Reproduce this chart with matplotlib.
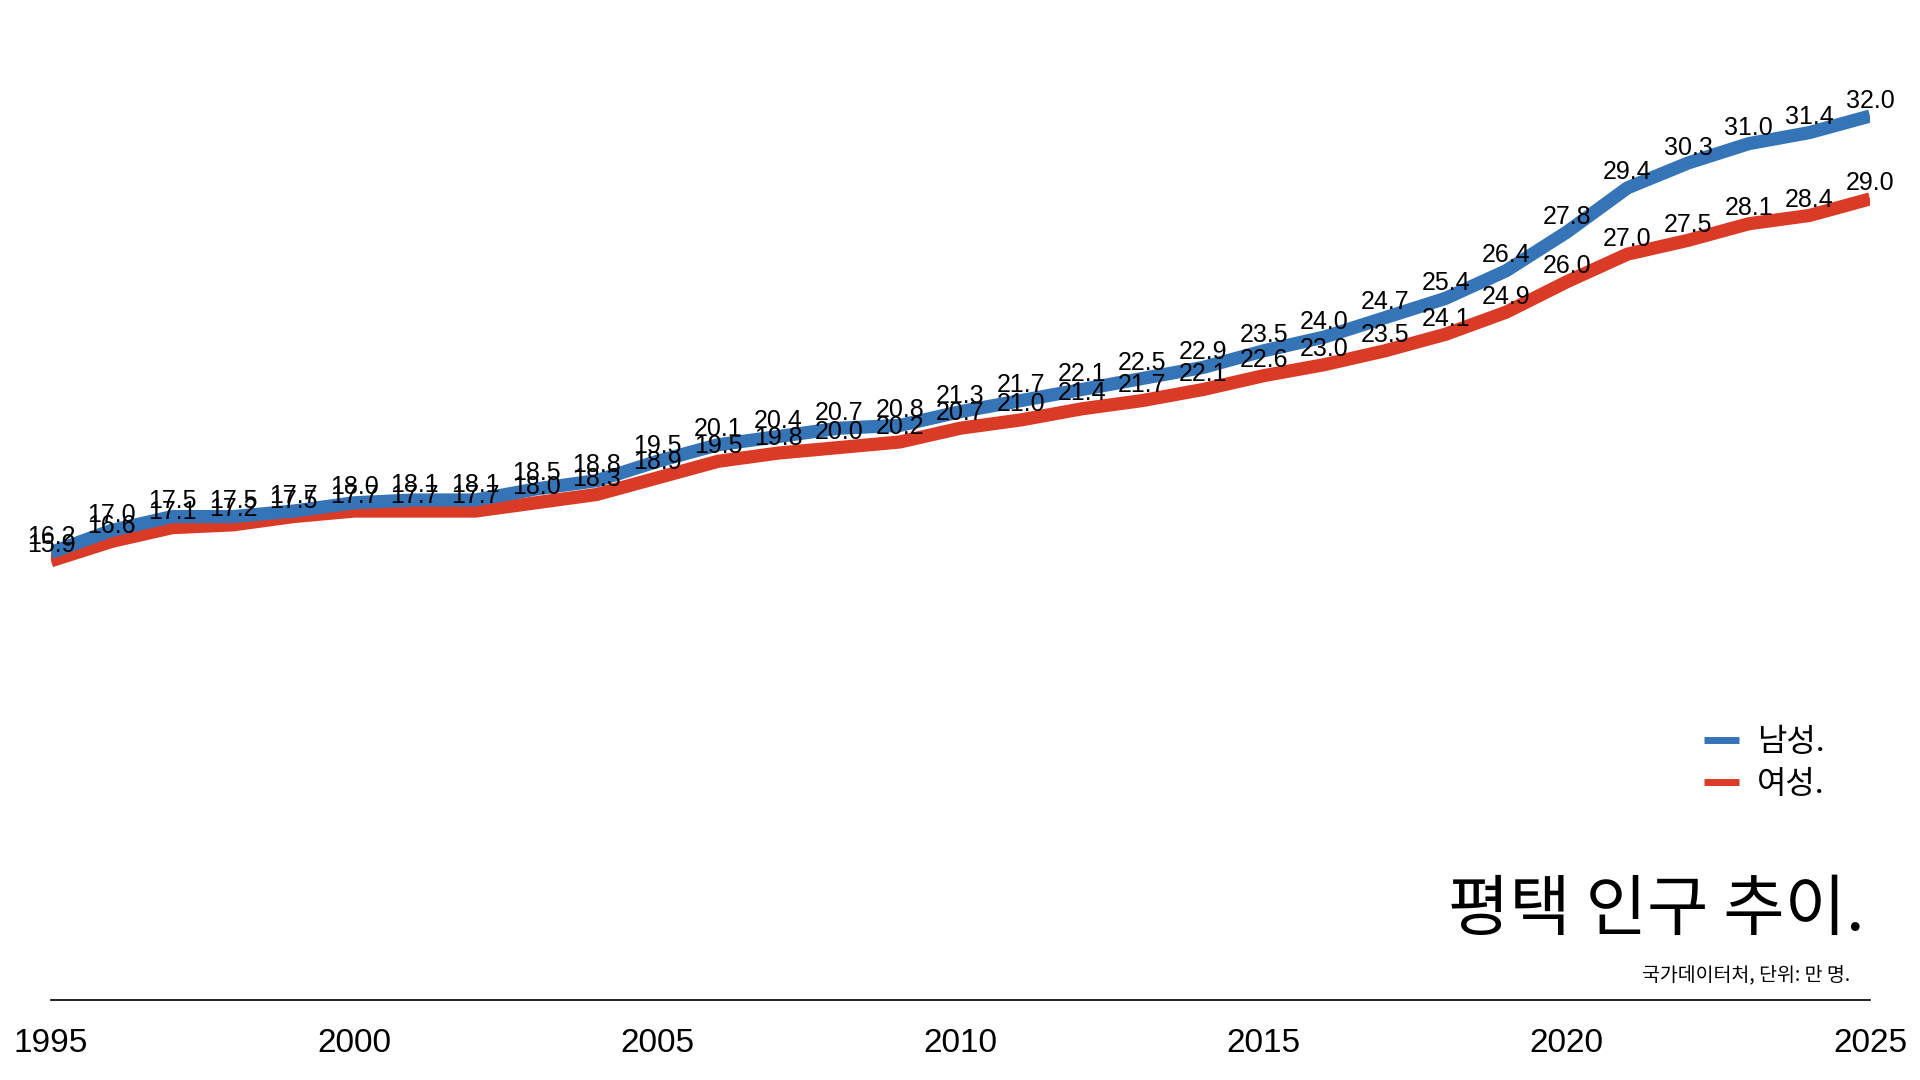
import matplotlib
matplotlib.use('Agg')
import matplotlib.pyplot as plt
from matplotlib.lines import Line2D

# 평택 인구 (만 명), 국가데이터처
years = list(range(1995, 2026))
male = [16.2, 17.0, 17.5, 17.5, 17.7, 18.0, 18.1, 18.1, 18.5, 18.8,
        19.5, 20.1, 20.4, 20.7, 20.8, 21.3, 21.7, 22.1, 22.5, 22.9,
        23.5, 24.0, 24.7, 25.4, 26.4, 27.8, 29.4, 30.3, 31.0, 31.4, 32.0]
female = [15.9, 16.6, 17.1, 17.2, 17.5, 17.7, 17.7, 17.7, 18.0, 18.3,
          18.9, 19.5, 19.8, 20.0, 20.2, 20.7, 21.0, 21.4, 21.7, 22.1,
          22.6, 23.0, 23.5, 24.1, 24.9, 26.0, 27.0, 27.5, 28.1, 28.4, 29.0]
xticks = [1995, 2000, 2005, 2010, 2015, 2020, 2025]
labels = ['남성.', '여성.']

BLUE = '#3574b7'
RED = '#da3b26'
KR = ['Noto Sans CJK KR', 'DejaVu Sans']

plt.rcParams['font.family'] = ['Liberation Sans', 'Noto Sans CJK KR', 'DejaVu Sans']


def plot():
    fig = plt.figure(figsize=(19.2, 10.8), dpi=100)
    ax = fig.add_axes([51 / 1920, 80 / 1080, 1819 / 1920, 1000 / 1080])

    ax.plot(years, female, color=RED, lw=9.5, solid_capstyle='butt', zorder=2)
    ax.plot(years, male, color=BLUE, lw=9.5, solid_capstyle='butt', zorder=3)

    for series in (male, female):
        for x, y in zip(years, series):
            ax.annotate(f'{y:.1f}', (x, y), xytext=(0, 2.5), textcoords='offset points',
                        ha='center', va='bottom', fontsize=18, zorder=4)

    ax.set_xlim(1995, 2025)
    ax.set_ylim(0, 36.2)
    ax.set_xticks(xticks)
    ax.set_xticklabels([str(t) for t in xticks], fontsize=24)
    ax.tick_params(axis='x', length=0, pad=20)
    ax.set_yticks([])
    for s in ('top', 'right', 'left'):
        ax.spines[s].set_visible(False)
    ax.spines['bottom'].set_linewidth(1.2)
    ax.patch.set_visible(False)

    handles = [Line2D([], [], color=BLUE, lw=5, solid_capstyle='butt'),
               Line2D([], [], color=RED, lw=5, solid_capstyle='butt')]
    fig.legend(handles, labels, loc='upper left', bbox_to_anchor=(1704 / 1920, 1 - 726 / 1080),
               frameon=False, prop={'family': KR, 'size': 23},
               handlelength=1.1, handletextpad=0.55, labelspacing=0.32, borderpad=0,
               borderaxespad=0)

    fig.text(1864 / 1920, 1 - 911 / 1080, '평택 인구 추이.', family=KR, fontsize=48,
             ha='right', va='center')
    fig.text(1850 / 1920, 1 - 975 / 1080, '국가데이터처, 단위: 만 명.', family=KR, fontsize=14,
             ha='right', va='center')

    fig.savefig('out.png', dpi=100)


if __name__ == '__main__':
    plot()
